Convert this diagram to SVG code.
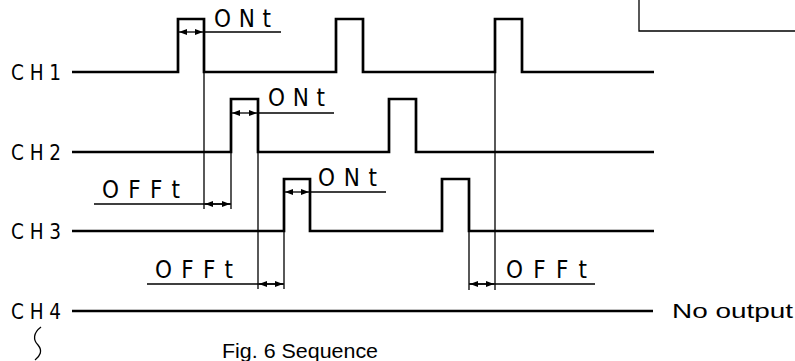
<svg xmlns="http://www.w3.org/2000/svg" width="795" height="361" viewBox="0 0 795 361">
<style>
.wave{fill:none;stroke:#000;stroke-width:2.7;stroke-linejoin:miter;stroke-linecap:butt}
.thin{fill:none;stroke:#000;stroke-width:1.3}
.lbl{font-family:"DejaVu Sans Condensed","DejaVu Sans",sans-serif;font-stretch:condensed;font-size:20.5px;fill:#000}
.dim{font-family:"DejaVu Sans Condensed","DejaVu Sans",sans-serif;font-stretch:condensed;font-size:24px;fill:#000}
.cap{font-family:"Liberation Sans",Arial,sans-serif;font-size:21px;fill:#000}
</style>
<defs>
<marker id="ah" viewBox="0 0 8 6" refX="8" refY="3" markerWidth="8" markerHeight="6" markerUnits="userSpaceOnUse" orient="auto-start-reverse">
<path d="M0,0 L8,3 L0,6 Z" fill="#000"/>
</marker>
</defs>
<rect width="795" height="361" fill="#fff"/>
<g id="box"><path class="thin" d="M639,0 V31 H795" stroke-width="1.5"/></g>
<g id="ch1">
<text class="lbl" x="11" y="80" textLength="50" lengthAdjust="spacing">CH1</text>
<path class="wave" d="M72,72 H178 V19 H204 V72 H336 V19 H363 V72 H495 V19 H522 V72 H654"/>
</g>
<g id="ch2">
<text class="lbl" x="11" y="160" textLength="50" lengthAdjust="spacing">CH2</text>
<path class="wave" d="M72,152 H231 V99 H258 V152 H389 V99 H416 V152 H654"/>
</g>
<g id="ch3">
<text class="lbl" x="11" y="239" textLength="50" lengthAdjust="spacing">CH3</text>
<path class="wave" d="M72,231 H284 V179 H310 V231 H442 V179 H469 V231 H654"/>
</g>
<g id="ch4">
<text class="lbl" x="11" y="319" textLength="50" lengthAdjust="spacing">CH4</text>
<path class="wave" d="M72,311 H653"/>
<text class="cap" x="672" y="318" textLength="121" lengthAdjust="spacingAndGlyphs">No output</text>
<path class="thin" d="M41,327 C33,333 33,340 38,345 C43,351 40,356 35,360"/>
</g>
<g id="connectors">
<path class="thin" d="M204,72 V209 M231,152 V209 M258,152 V289 M284,231 V289 M495,72 V290 M469,231 V290"/>
<path class="thin" d="M204,32 H281 M258,113 H334 M310,192 H386 M94,204 H231 M147,284 H284 M469,284 H595"/>
<path class="thin" d="M191,32 H179" marker-end="url(#ah)"/>
<path class="thin" d="M191,32 H203" marker-end="url(#ah)"/>
<path class="thin" d="M244,113 H232" marker-end="url(#ah)"/>
<path class="thin" d="M244,113 H257" marker-end="url(#ah)"/>
<path class="thin" d="M297,192 H285" marker-end="url(#ah)"/>
<path class="thin" d="M297,192 H309" marker-end="url(#ah)"/>
<path class="thin" d="M217,204 H205" marker-end="url(#ah)"/>
<path class="thin" d="M217,204 H230" marker-end="url(#ah)"/>
<path class="thin" d="M271,284 H259" marker-end="url(#ah)"/>
<path class="thin" d="M271,284 H283" marker-end="url(#ah)"/>
<path class="thin" d="M482,284 H470" marker-end="url(#ah)"/>
<path class="thin" d="M482,284 H494" marker-end="url(#ah)"/>
</g>
<g id="labels">
<text class="dim" x="214" y="27" textLength="57" lengthAdjust="spacing">ONt</text>
<text class="dim" x="268" y="106" textLength="57" lengthAdjust="spacing">ONt</text>
<text class="dim" x="318" y="186" textLength="59" lengthAdjust="spacing">ONt</text>
<text class="dim" x="102" y="198" textLength="78" lengthAdjust="spacing">OFFt</text>
<text class="dim" x="155" y="278" textLength="78" lengthAdjust="spacing">OFFt</text>
<text class="dim" x="506" y="278" textLength="81" lengthAdjust="spacing">OFFt</text>
</g>
<g id="caption">
<text class="cap" x="222" y="358" textLength="156" lengthAdjust="spacingAndGlyphs">Fig. 6 Sequence</text>
</g>
</svg>
